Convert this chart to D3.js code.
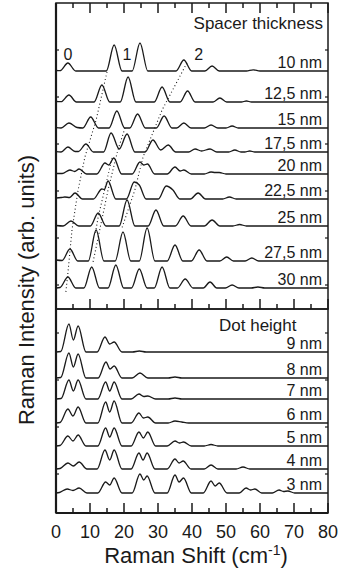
<!DOCTYPE html>
<html><head><meta charset="utf-8">
<script src="https://cdn.jsdelivr.net/npm/d3@7"></script>
<style>
html,body{margin:0;padding:0;background:#fff;}
svg{display:block;font-family:"Liberation Sans",Arial,sans-serif;}
</style></head>
<body><svg id="c" width="342" height="576"></svg>
<script>
// ---- data ----
const xTicksMajor = [0,10,20,30,40,50,60,70,80];
const xTicksMinor = [5,15,25,35,45,55,65,75];
const topYTicks = [24,71,118,165,212,259];
const botYTicks = [39,86,133,180];

const topLabels = ["10 nm","12,5 nm","15 nm","17,5 nm","20 nm","22,5 nm","25 nm","27,5 nm","30 nm"];
const topOffsets = [238,207,181,157,135,110,83,48,21];
const botLabels = ["9 nm","8 nm","7 nm","6 nm","5 nm","4 nm","3 nm"];
const botOffsets = [161,135,114,90,67,44,20];

// spectra: [Raman shift, intensity above offset]
const s10 = [[0,0.5],[1.2,0.3],[3.5,8],[5.8,0],[14.8,0],[17.1,26],[19.4,0],[22.4,0],[24.7,28],[27,0],[35.3,0],[37.6,11],[39.9,0],[43.8,0],[45.9,5],[48,0],[56,0],[58,1.2],[60,0],[80,0]];
const s12_5 = [[0,0.5],[1.5,0.3],[3.8,7],[6,0],[11.2,0],[13.5,17],[15.8,0],[18.9,0],[21.2,25],[23.5,0],[28.9,0],[31.2,15],[33.5,0],[36.5,0],[38.7,11],[40.9,0],[46.2,0],[48.2,4],[50.2,0],[54.5,0],[56,1],[57.5,0],[80,0]];
const s15 = [[0,0.3],[1.5,0],[3.8,5],[6.2,0.5],[7.9,0],[10.2,11],[12.5,0],[15.6,0],[17.9,17],[20.2,0],[21.7,0],[24,14],[26.3,0],[29.5,0],[31.8,12],[34.1,0],[35.5,0],[37.6,5],[39.7,0],[43.6,0],[45.6,3],[47.6,0],[50,0],[51.8,2],[53.6,0],[80,0]];
const s17_5 = [[0,0.3],[1.5,0],[3.5,5],[5.6,0.5],[6.6,0.5],[8.8,8],[11,0],[14,0],[16.2,19],[18.6,3],[20.9,18],[23.2,0],[26.2,0],[28.5,12],[30.8,2],[33,7],[35.2,0],[39,0],[40.9,3],[42.8,1],[45.3,3],[47.3,0],[50.8,0],[52.6,2],[54.4,0],[55.5,0],[57,1],[58.5,0],[80,0]];
const s20 = [[0,0.5],[1.8,0.5],[4.1,4],[5.5,2.5],[6.8,5],[9,0],[12,0],[14.4,11],[15.5,9],[17,16],[19.3,0],[22.4,0],[24.7,12],[25.8,9],[26.9,10],[29,0],[32.7,0],[35,7],[36.5,3],[37.6,4],[39.8,0],[43.6,0],[45.6,2],[46.8,1.5],[48,1.5],[50,0],[80,0]];
const s22_5 = [[0,1],[1.5,1.5],[2.6,2],[4,1.5],[5.6,6],[7.8,0],[11,0],[13.5,10],[14.2,9.5],[15.3,18],[17.6,0],[20.7,0],[23,17],[24.5,14],[26.5,0],[30.1,0],[32.4,13],[34.4,9],[36.4,0],[39.5,0],[41.8,6],[44,0],[49,0],[51,2],[53,0],[80,0]];
const s25 = [[0,0.5],[2.1,0],[4.4,5],[6.7,0],[10.1,0],[12.4,13],[14.7,0],[18.6,0],[20.9,26],[23.2,0],[27.1,0],[29.4,16],[31.7,0],[35.1,0],[37.4,10],[39.7,0],[43.6,0],[45.9,6],[48.2,0],[52,0],[54,1.5],[56,0],[80,0]];
const s27_5 = [[0,1],[1.8,0.5],[4.1,12],[6.4,0],[9.5,0],[11.8,31],[14.1,0],[17.4,0],[19.7,29],[22,0],[24.5,0],[26.8,33],[29.1,0],[32.7,0],[35,16],[37.3,0],[39.8,0],[42.1,11],[44.4,0],[48.2,0],[50.2,4],[52.2,0],[55.6,0],[57.6,3],[59.6,0],[80,0]];
const s30 = [[0,0],[1.2,0.5],[3.5,11],[5.8,0],[8.2,0],[10.5,21],[12.8,0],[15.3,0],[17.6,23],[19.9,0],[22.2,0],[24.5,19],[26.8,0],[28.9,0],[31.2,21],[33.5,0],[35.7,0],[38,9],[40.3,0],[43.3,0],[45.3,6],[47.3,0],[49.8,0],[51.8,3],[53.8,0],[57.4,0],[59.4,1],[61.4,0],[80,0]];

const s9 = [[0,0],[1.4,0.5],[3.8,28],[5.1,12],[6.5,26],[8.8,0],[12.1,0],[14.4,15],[15.8,8],[17.1,10],[19.4,0],[22.5,0],[24.5,1],[26.5,0],[80,0]];
const s8 = [[0,0],[1.4,0.5],[3.8,25],[5.1,11],[6.5,24],[8.8,0],[12.4,0],[14.7,16],[15.9,9],[17.1,12],[19.4,0],[22.4,0],[24.7,5],[27,0],[33,0],[35,1],[37,0],[80,0]];
const s7 = [[0,0],[1.5,0.5],[3.8,19],[5.1,8],[6.5,19],[8.8,0],[12.3,0],[14.6,17],[15.8,8],[17.1,17],[19.4,0],[22.1,0],[24.4,5],[25.8,2.5],[27,3],[29.3,0],[33,0],[35,1],[37,0],[80,0]];
const s6 = [[0,0],[1.2,0.5],[3.5,14],[5,7],[6.5,16],[8.8,0],[12.3,0],[14.6,21],[15.8,11],[17.1,22],[19.4,0],[22.1,0],[24.4,10],[25.7,5],[27,6],[29.3,0],[33,0],[35,2],[37,1],[39,0],[80,0]];
const s5 = [[0,0],[1.2,0.5],[3.5,10],[5,5],[6.5,11],[8.8,0],[12.3,0],[14.6,18],[15.8,9],[17.1,18],[19.4,0],[22.1,0],[24.4,14],[25.7,8],[27,14],[29.3,0],[32.7,0],[35,5],[36.3,3],[37.5,4],[39.8,0],[43.6,0],[45.6,1.5],[47.6,0],[80,0]];
const s4 = [[0,0],[1.2,0.5],[3.5,6],[5.1,3],[6.8,7],[9.1,0],[12.1,0],[14.4,19],[15.8,9],[17.1,19],[19.4,0],[22.1,0],[24.4,16],[25.6,9],[26.8,16],[29.1,0],[32.7,0],[35,10],[36.2,6],[37.4,8],[39.7,0],[43.6,0],[45.6,4],[47.6,0],[53,0],[55,2],[57,0],[80,0]];
const s3 = [[0,0],[1,0.5],[3.3,4],[5,2.5],[6.8,5],[9.1,0],[12.3,0],[14.6,11],[15.8,8],[17.1,15],[19.4,0],[22.4,0],[24.7,19],[25.8,13],[26.8,17],[29.1,0],[32.7,0],[35,18],[36.2,11],[37.5,15],[39.8,0],[43.3,0],[45.6,12],[46.8,7],[48,10],[50.3,0],[53.9,0],[55.9,5],[57.2,3],[58.5,4],[60.5,0],[63.6,0],[65.6,3],[66.9,1.5],[68.2,2],[70.2,0],[80,0]];

const topSpectra = [s10,s12_5,s15,s17_5,s20,s22_5,s25,s27_5,s30];
const botSpectra = [s9,s8,s7,s6,s5,s4,s3];

// dotted guide lines (top panel, data coords)
const guide1 = [[15,237],[11.8,189],[8.5,152],[6.5,119],[4.7,79],[3.5,36],[2.9,17]];
const guide2 = [[20.3,181],[18.2,159],[15.3,119],[10.9,47]];
const guide3 = [[16.5,151],[12.4,92],[11.5,74]];
const guide4 = [[38.5,246],[31.2,199],[25.6,152],[23.2,119],[19.4,81]];
const guides = [guide1,guide2,guide3,guide4];

const orderLabels = ["0","1","2"];
const orderX = [3.5,20.9,42];
const orderY = 249;

// ---- drawing ----
const svg = d3.select("#c");
const L = 56, R = 328, T1 = 3, B1 = 309, B2 = 513;
const x = d3.scaleLinear().domain([0,80]).range([L,R]);
const yTop = d3.scaleLinear().domain([0,306]).range([B1,T1]);
const yBot = d3.scaleLinear().domain([0,204]).range([B2,B1]);
const ink = "#1a1a1a";

function drawPanel(ys, spectra, offsets, labels){
  const g = svg.append("g");
  spectra.forEach((s,i)=>{
    const line = d3.line().x(d=>x(d[0])).y(d=>ys(d[1]+offsets[i])).curve(d3.curveMonotoneX);
    g.append("path").attr("d", line(s)).attr("fill","none").attr("stroke",ink).attr("stroke-width",1.3);
    g.append("text").attr("x", x(80)-6).attr("y", ys(offsets[i])-3)
      .attr("text-anchor","end").attr("font-size",16).attr("fill",ink).text(labels[i]);
  });
}
drawPanel(yTop, topSpectra, topOffsets, topLabels);
drawPanel(yBot, botSpectra, botOffsets, botLabels);

// guides
guides.forEach(gd=>{
  svg.append("path").attr("d", d3.line().x(d=>x(d[0])).y(d=>yTop(d[1]))(gd))
    .attr("fill","none").attr("stroke",ink).attr("stroke-width",1.1).attr("stroke-dasharray","1,2.6");
});
orderLabels.forEach((t,i)=>{
  svg.append("text").attr("x",x(orderX[i])).attr("y",yTop(orderY)).attr("text-anchor","middle")
    .attr("font-size",16).attr("fill",ink).text(t);
});

svg.append("text").attr("x",x(80)-5).attr("y",29).attr("text-anchor","end").attr("font-size",17).attr("fill",ink).text("Spacer thickness");
svg.append("text").attr("x",219).attr("y",331).attr("text-anchor","start").attr("font-size",17).attr("fill",ink).text("Dot height");

// frames
[[T1,B1],[B1,B2]].forEach(([t,b])=>{
  svg.append("rect").attr("x",L).attr("y",t).attr("width",R-L).attr("height",b-t)
    .attr("fill","none").attr("stroke",ink).attr("stroke-width",1.5);
});
svg.append("line").attr("x1",L).attr("x2",L).attr("y1",T1).attr("y2",B2).attr("stroke",ink).attr("stroke-width",2.2);
svg.append("line").attr("x1",L).attr("x2",R).attr("y1",B2).attr("y2",B2).attr("stroke",ink).attr("stroke-width",2.2);

// x ticks
function xTicks(yPos, dir){
  xTicksMajor.forEach(v=>svg.append("line").attr("x1",x(v)).attr("x2",x(v)).attr("y1",yPos).attr("y2",yPos+dir*10).attr("stroke",ink).attr("stroke-width",1.5));
  xTicksMinor.forEach(v=>svg.append("line").attr("x1",x(v)).attr("x2",x(v)).attr("y1",yPos).attr("y2",yPos+dir*5).attr("stroke",ink).attr("stroke-width",1.5));
}
xTicks(T1, 1); xTicks(B1, -1); xTicks(B2, -1);

// y ticks
function yTicks(ys, vals){
  vals.forEach(v=>{
    svg.append("line").attr("x1",L).attr("x2",L+3).attr("y1",ys(v)).attr("y2",ys(v)).attr("stroke",ink).attr("stroke-width",1.2);
    svg.append("line").attr("x1",R).attr("x2",R-3).attr("y1",ys(v)).attr("y2",ys(v)).attr("stroke",ink).attr("stroke-width",1.2);
  });
}
yTicks(yTop, topYTicks); yTicks(yBot, botYTicks);

// tick labels
xTicksMajor.forEach(v=>svg.append("text").attr("x",x(v)).attr("y",538).attr("text-anchor","middle").attr("font-size",18).attr("fill",ink).text(v));

// axis titles
const xt = svg.append("text").attr("x",196).attr("y",563).attr("text-anchor","middle").attr("font-size",22).attr("fill",ink);
xt.append("tspan").text("Raman Shift (cm");
xt.append("tspan").attr("dy",-8).attr("font-size",14).text("-1");
xt.append("tspan").attr("dy",8).text(")");
svg.append("text").attr("transform","translate(34,290) rotate(-90)").attr("text-anchor","middle")
  .attr("font-size",22).attr("fill",ink).text("Raman Intensity (arb. units)");
</script></body></html>
